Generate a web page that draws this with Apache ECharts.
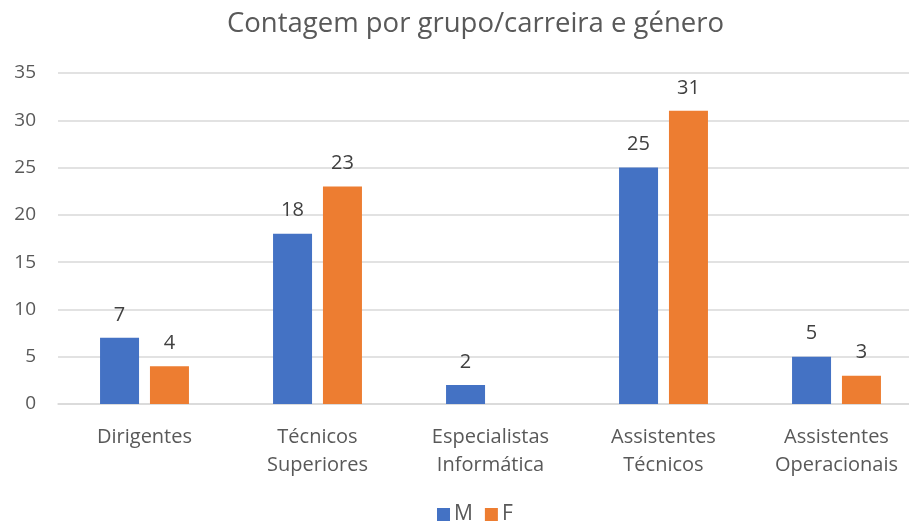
<!DOCTYPE html>
<html>
<head>
<meta charset="utf-8">
<script src="https://cdn.jsdelivr.net/npm/echarts@6/dist/echarts.min.js"></script>
<style>
  html, body { margin: 0; padding: 0; background: #fff; }
  #chart { width: 909px; height: 528px; }
</style>
</head>
<body>
<div id="chart"></div>
<script>
var categories = ['Dirigentes', 'Técnicos\nSuperiores', 'Especialistas\nInformática', 'Assistentes\nTécnicos', 'Assistentes\nOperacionais'];
var valuesM = [7, 18, 2, 25, 5];
var valuesF = [4, 23, null, 31, 3];
var yTicks = { min: 0, max: 35, interval: 5 };

var myChart = echarts.init(document.getElementById('chart'));
var fontFam = '"Open Sans", "Liberation Sans", sans-serif';

var option = {
    title: {
        text: 'Contagem por grupo/carreira e género',
        left: 222,
        top: 5,
        textStyle: { fontFamily: fontFam, fontSize: 27.5, fontWeight: 'normal', color: '#595959' }
    },
    legend: {
        top: 504,
        left: 432,
        padding: [0, 5],
        itemWidth: 13,
        itemHeight: 13,
        itemGap: 12,
        icon: 'rect',
        textStyle: { fontFamily: fontFam, fontSize: 21, color: '#595959', padding: [0, 0, 0, -1] },
        data: ['M', 'F']
    },
    grid: { left: 58, width: 865, top: 73, bottom: 124, containLabel: false, outerBoundsMode: 'none' },
    xAxis: {
        type: 'category',
        data: categories,
        axisTick: { show: false },
        axisLine: { lineStyle: { color: '#d9d9d9', width: 1.5 } },
        axisLabel: { fontFamily: fontFam, fontSize: 20, color: '#595959', margin: 19, lineHeight: 28, interval: 0 }
    },
    yAxis: {
        type: 'value',
        min: yTicks.min,
        max: yTicks.max,
        interval: yTicks.interval,
        axisLine: { show: false },
        axisTick: { show: false },
        axisLabel: { fontFamily: fontFam, fontSize: 19, color: '#595959', margin: 22 },
        splitLine: { lineStyle: { color: '#d9d9d9', width: 1.5 } }
    },
    series: [{
        name: 'M',
        type: 'bar',
        data: valuesM,
        barWidth: 39,
        barGap: '28%',
        itemStyle: { color: '#4472c4' },
        label: { show: true, position: 'top', distance: 13, fontFamily: fontFam, fontSize: 20, color: '#404040' }
    }, {
        name: 'F',
        type: 'bar',
        data: valuesF,
        barWidth: 39,
        itemStyle: { color: '#ed7d31' },
        label: { show: true, position: 'top', distance: 13, fontFamily: fontFam, fontSize: 20, color: '#404040' }
    }]
};

myChart.setOption(option);
</script>
</body>
</html>
